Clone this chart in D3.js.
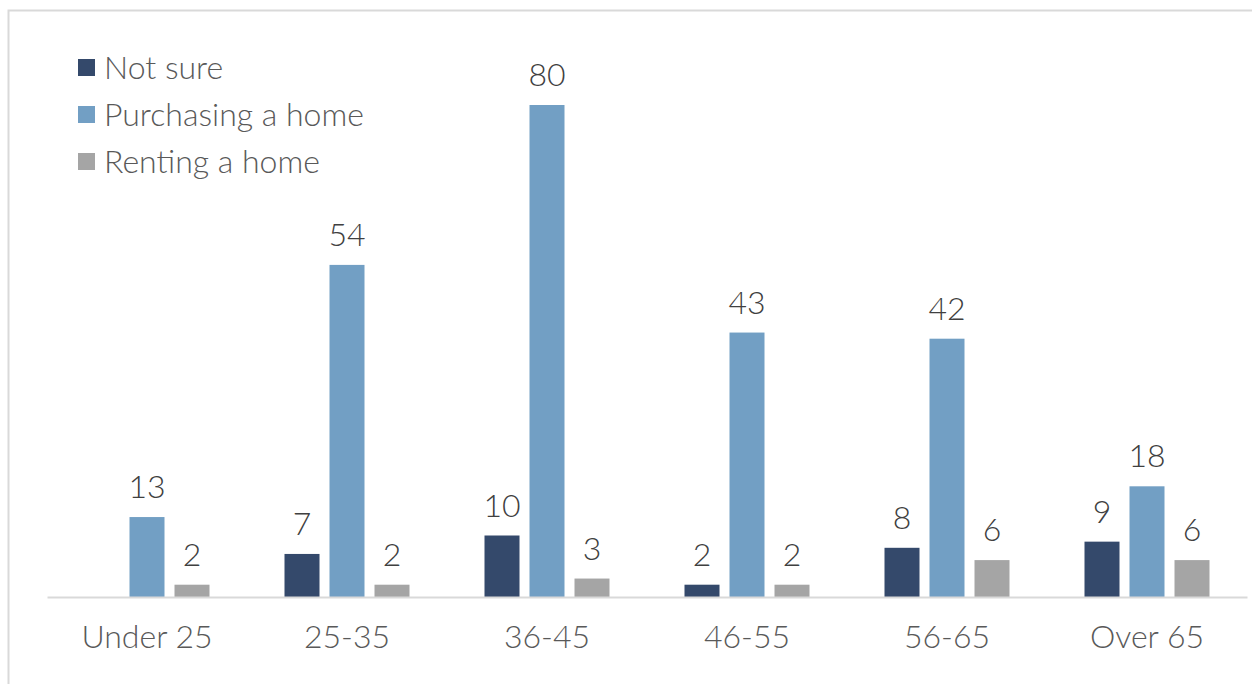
<!DOCTYPE html>
<html><head><meta charset="utf-8">
<script src="https://cdn.jsdelivr.net/npm/d3@7"></script>
<style>html,body{margin:0;padding:0;background:#fff;overflow:hidden}</style>
</head><body>
<svg id="chart" width="1252" height="684"></svg>
<script>
const categories = ["Under 25", "25-35", "36-45", "46-55", "56-65", "Over 65"];
const seriesNames = ["Not sure", "Purchasing a home", "Renting a home"];
const notSure = [null, 7, 10, 2, 8, 9];
const purchasing = [13, 54, 80, 43, 42, 18];
const renting = [2, 2, 3, 2, 6, 6];
const colors = ["#34496b", "#729fc4", "#a5a5a5"];

const series = [notSure, purchasing, renting];
const svg = d3.select("#chart");
const font = "Lato, 'Open Sans', sans-serif";
const fs = 32;

// frame
svg.append("rect").attr("x", 8.5).attr("y", 10.5).attr("width", 1260).attr("height", 700)
  .attr("fill", "none").attr("stroke", "#d9d9d9").attr("stroke-width", 2);

const x0 = d3.scaleBand().domain(categories).range([47, 1247]).paddingInner(0).paddingOuter(0);
const x1 = d3.scaleBand().domain(seriesNames).range([0, 125]).paddingInner(10/45);
const y = d3.scaleLinear().domain([0, 80]).range([597, 105]);

const groups = svg.append("g").selectAll("g").data(categories).join("g")
  .attr("transform", d => `translate(${x0(d) + x0.bandwidth()/2 - 62.5},0)`);

seriesNames.forEach((s, si) => {
  groups.each(function(c, ci) {
    const v = series[si][ci];
    if (v == null) return;
    const g = d3.select(this);
    g.append("rect").attr("x", x1(s)).attr("width", x1.bandwidth())
      .attr("y", y(v)).attr("height", y(0) - y(v)).attr("fill", colors[si]);
    g.append("text").attr("x", x1(s) + x1.bandwidth()/2).attr("y", y(v) - 19)
      .attr("text-anchor", "middle").attr("font-family", font).attr("font-size", fs)
      .attr("font-weight", 300).attr("fill", "#404040").text(v);
  });
});

// baseline axis
const xAxis = d3.axisBottom(x0).tickSize(0).tickPadding(28);
const ax = svg.append("g").attr("transform", "translate(0,597)").call(xAxis);
ax.select(".domain").attr("stroke", "#d9d9d9").attr("stroke-width", 2);
ax.selectAll("text").attr("font-family", font).attr("font-size", fs).attr("font-weight", 300)
  .attr("fill", "#595959");

// legend
const leg = svg.append("g");
seriesNames.forEach((s, i) => {
  const yy = 68 + i * 47;
  leg.append("rect").attr("x", 78).attr("y", yy - 9).attr("width", 17).attr("height", 17).attr("fill", colors[i]);
  leg.append("text").attr("x", 104).attr("y", yy + 11).attr("font-family", font).attr("font-size", fs)
    .attr("font-weight", 300).attr("fill", "#595959").text(s);
});
</script>
</body></html>
